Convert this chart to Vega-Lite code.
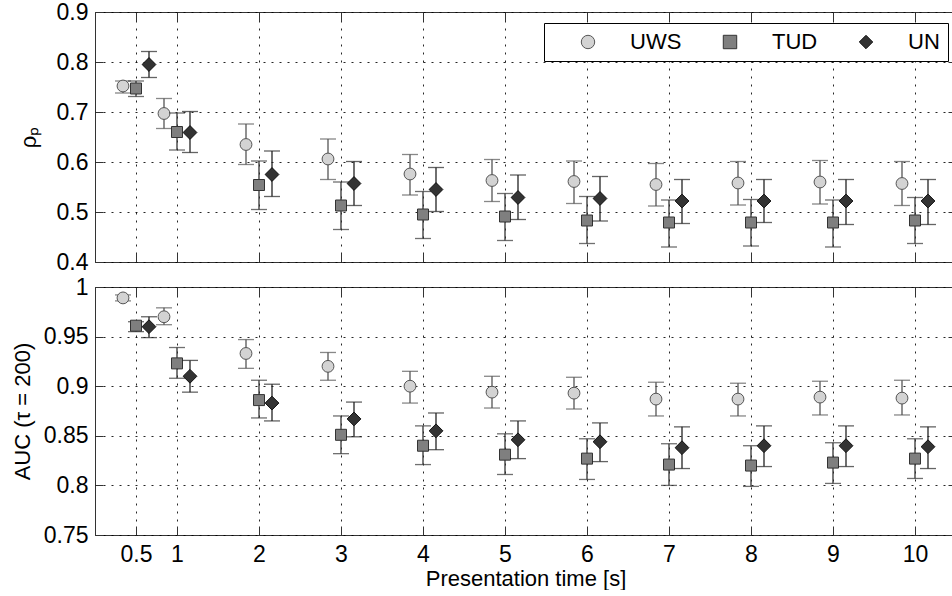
{
  "$schema": "https://vega.github.io/schema/vega-lite/v6.json",
  "padding": {"left": 10, "top": 0, "right": 0, "bottom": 0},
  "background": "white",
  "datasets": {
    "d": [
      {"t": 0.5, "src": "UWS", "r": 0.752, "rlo": 0.738, "rhi": 0.762, "a": 0.989, "alo": 0.986, "ahi": 0.992},
      {"t": 1, "src": "UWS", "r": 0.697, "rlo": 0.667, "rhi": 0.727, "a": 0.970, "alo": 0.962, "ahi": 0.979},
      {"t": 2, "src": "UWS", "r": 0.635, "rlo": 0.595, "rhi": 0.676, "a": 0.933, "alo": 0.918, "ahi": 0.947},
      {"t": 3, "src": "UWS", "r": 0.606, "rlo": 0.565, "rhi": 0.646, "a": 0.920, "alo": 0.906, "ahi": 0.934},
      {"t": 4, "src": "UWS", "r": 0.576, "rlo": 0.534, "rhi": 0.615, "a": 0.900, "alo": 0.883, "ahi": 0.915},
      {"t": 5, "src": "UWS", "r": 0.563, "rlo": 0.521, "rhi": 0.605, "a": 0.894, "alo": 0.878, "ahi": 0.910},
      {"t": 6, "src": "UWS", "r": 0.561, "rlo": 0.517, "rhi": 0.602, "a": 0.893, "alo": 0.877, "ahi": 0.909},
      {"t": 7, "src": "UWS", "r": 0.555, "rlo": 0.512, "rhi": 0.597, "a": 0.887, "alo": 0.870, "ahi": 0.904},
      {"t": 8, "src": "UWS", "r": 0.558, "rlo": 0.514, "rhi": 0.601, "a": 0.887, "alo": 0.870, "ahi": 0.903},
      {"t": 9, "src": "UWS", "r": 0.560, "rlo": 0.516, "rhi": 0.603, "a": 0.889, "alo": 0.871, "ahi": 0.905},
      {"t": 10, "src": "UWS", "r": 0.557, "rlo": 0.513, "rhi": 0.601, "a": 0.888, "alo": 0.871, "ahi": 0.906},
      {"t": 0.5, "src": "TUD", "r": 0.747, "rlo": 0.731, "rhi": 0.762, "a": 0.961, "alo": 0.955, "ahi": 0.965},
      {"t": 1, "src": "TUD", "r": 0.660, "rlo": 0.624, "rhi": 0.698, "a": 0.923, "alo": 0.908, "ahi": 0.939},
      {"t": 2, "src": "TUD", "r": 0.554, "rlo": 0.505, "rhi": 0.602, "a": 0.886, "alo": 0.868, "ahi": 0.906},
      {"t": 3, "src": "TUD", "r": 0.513, "rlo": 0.465, "rhi": 0.560, "a": 0.851, "alo": 0.832, "ahi": 0.870},
      {"t": 4, "src": "TUD", "r": 0.495, "rlo": 0.447, "rhi": 0.541, "a": 0.840, "alo": 0.821, "ahi": 0.860},
      {"t": 5, "src": "TUD", "r": 0.491, "rlo": 0.443, "rhi": 0.537, "a": 0.831, "alo": 0.811, "ahi": 0.852},
      {"t": 6, "src": "TUD", "r": 0.483, "rlo": 0.437, "rhi": 0.531, "a": 0.827, "alo": 0.806, "ahi": 0.847},
      {"t": 7, "src": "TUD", "r": 0.479, "rlo": 0.430, "rhi": 0.524, "a": 0.821, "alo": 0.800, "ahi": 0.842},
      {"t": 8, "src": "TUD", "r": 0.479, "rlo": 0.432, "rhi": 0.525, "a": 0.820, "alo": 0.799, "ahi": 0.840},
      {"t": 9, "src": "TUD", "r": 0.479, "rlo": 0.430, "rhi": 0.524, "a": 0.823, "alo": 0.802, "ahi": 0.843},
      {"t": 10, "src": "TUD", "r": 0.483, "rlo": 0.437, "rhi": 0.529, "a": 0.827, "alo": 0.807, "ahi": 0.847},
      {"t": 0.5, "src": "UN", "r": 0.795, "rlo": 0.769, "rhi": 0.821, "a": 0.960, "alo": 0.949, "ahi": 0.970},
      {"t": 1, "src": "UN", "r": 0.659, "rlo": 0.619, "rhi": 0.701, "a": 0.910, "alo": 0.894, "ahi": 0.926},
      {"t": 2, "src": "UN", "r": 0.575, "rlo": 0.531, "rhi": 0.622, "a": 0.883, "alo": 0.865, "ahi": 0.902},
      {"t": 3, "src": "UN", "r": 0.557, "rlo": 0.513, "rhi": 0.601, "a": 0.867, "alo": 0.849, "ahi": 0.884},
      {"t": 4, "src": "UN", "r": 0.545, "rlo": 0.501, "rhi": 0.589, "a": 0.855, "alo": 0.836, "ahi": 0.873},
      {"t": 5, "src": "UN", "r": 0.529, "rlo": 0.485, "rhi": 0.574, "a": 0.846, "alo": 0.827, "ahi": 0.865},
      {"t": 6, "src": "UN", "r": 0.527, "rlo": 0.482, "rhi": 0.571, "a": 0.844, "alo": 0.824, "ahi": 0.863},
      {"t": 7, "src": "UN", "r": 0.522, "rlo": 0.477, "rhi": 0.565, "a": 0.838, "alo": 0.817, "ahi": 0.859},
      {"t": 8, "src": "UN", "r": 0.522, "rlo": 0.479, "rhi": 0.565, "a": 0.840, "alo": 0.819, "ahi": 0.860},
      {"t": 9, "src": "UN", "r": 0.522, "rlo": 0.475, "rhi": 0.565, "a": 0.840, "alo": 0.819, "ahi": 0.860},
      {"t": 10, "src": "UN", "r": 0.522, "rlo": 0.475, "rhi": 0.565, "a": 0.839, "alo": 0.817, "ahi": 0.859}
    ]
  },
  "data": {"name": "d"},
  "config": {
    "font": "Liberation Sans",
    "view": {"stroke": "#333", "strokeWidth": 1},
    "axis": {
      "grid": true, "gridColor": "#000", "gridDash": [2, 6], "gridOpacity": 0.85, "gridWidth": 1,
      "ticks": true, "tickColor": "#333", "tickWidth": 1, "domain": false,
      "labelFont": "Liberation Sans", "labelFontSize": 23, "labelColor": "#000",
      "titleFont": "Liberation Sans", "titleFontSize": 22, "titleFontWeight": "normal", "titleColor": "#000"
    },
    "legend": {
      "orient": "none", "legendX": 449, "legendY": 11, "direction": "horizontal", "gridAlign": "none",
      "labelFont": "Liberation Sans", "labelFontSize": 22, "labelColor": "#000",
      "titleOrient": "left", "titleFontSize": 10, "titlePadding": 25,
      "padding": 8, "strokeColor": "#000", "fillColor": "#fff",
      "columnPadding": 37, "labelOffset": 31, "symbolOffset": 0, "symbolSize": 180, "symbolStrokeWidth": 1
    }
  },
  "spacing": 0,
  "resolve": {"legend": {"shape": "independent", "fill": "independent", "stroke": "independent"}},
  "vconcat": [
    {
      "width": 861,
      "height": 250,
      "resolve": {"axis": {"x": "independent", "y": "independent"}},
      "layer": [
        {
          "encoding": {
            "x": {"field": "t", "type": "quantitative", "scale": {"domain": [0, 10.5], "nice": false, "zero": false},
                  "axis": {"values": [0.5, 1, 2, 3, 4, 5, 6, 7, 8, 9, 10], "labels": false, "title": null, "tickSize": -9}}
          },
          "layer": [
            {
              "transform": [{"filter": "datum.src === 'UWS'"}],
              "layer": [
                {"mark": {"type": "rule", "xOffset": -13, "color": "#555", "strokeWidth": 1.3},
                 "encoding": {"y": {"field": "rlo", "type": "quantitative", "title": "ρₚ", "scale": {"domain": [0.4, 0.9], "nice": false, "zero": false}, "axis": {"values": [0.4, 0.5, 0.6, 0.7, 0.8, 0.9], "format": "~r", "tickSize": -8, "labelPadding": 15, "titlePadding": 16}}, "y2": {"field": "rhi"}}},
                {"mark": {"type": "tick", "orient": "horizontal", "xOffset": -13, "color": "#555", "size": 16, "thickness": 1.3},
                 "encoding": {"y": {"field": "rlo", "type": "quantitative", "title": "ρₚ"}}},
                {"mark": {"type": "tick", "orient": "horizontal", "xOffset": -13, "color": "#555", "size": 16, "thickness": 1.3},
                 "encoding": {"y": {"field": "rhi", "type": "quantitative", "title": "ρₚ"}}},
                {"mark": {"type": "point", "xOffset": -13, "filled": true, "size": 140, "strokeWidth": 1, "opacity": 1},
                 "encoding": {
                   "y": {"field": "r", "type": "quantitative", "title": "ρₚ"},
                   "shape": {"field": "src", "type": "nominal", "scale": {"domain": ["UWS", "TUD", "UN"], "range": ["circle", "square", "diamond"]}, "legend": {"title": " "}},
                   "fill": {"field": "src", "type": "nominal", "scale": {"domain": ["UWS", "TUD", "UN"], "range": ["#d3d3d3", "#7f7f7f", "#333333"]}, "legend": {"title": " "}},
                   "stroke": {"field": "src", "type": "nominal", "scale": {"domain": ["UWS", "TUD", "UN"], "range": ["#555555", "#333333", "#111111"]}, "legend": {"title": " "}}
                 }}
              ]
            },
            {
              "transform": [{"filter": "datum.src === 'TUD'"}],
              "layer": [
                {"mark": {"type": "rule", "color": "#333", "strokeWidth": 1.3},
                 "encoding": {"y": {"field": "rlo", "type": "quantitative", "title": "ρₚ"}, "y2": {"field": "rhi"}}},
                {"mark": {"type": "tick", "orient": "horizontal", "color": "#333", "size": 16, "thickness": 1.3},
                 "encoding": {"y": {"field": "rlo", "type": "quantitative", "title": "ρₚ"}}},
                {"mark": {"type": "tick", "orient": "horizontal", "color": "#333", "size": 16, "thickness": 1.3},
                 "encoding": {"y": {"field": "rhi", "type": "quantitative", "title": "ρₚ"}}},
                {"mark": {"type": "point", "filled": true, "size": 121, "strokeWidth": 1, "opacity": 1},
                 "encoding": {
                   "y": {"field": "r", "type": "quantitative", "title": "ρₚ"},
                   "shape": {"field": "src", "type": "nominal", "scale": {"domain": ["UWS", "TUD", "UN"], "range": ["circle", "square", "diamond"]}, "legend": {"title": " "}},
                   "fill": {"field": "src", "type": "nominal", "scale": {"domain": ["UWS", "TUD", "UN"], "range": ["#d3d3d3", "#7f7f7f", "#333333"]}, "legend": {"title": " "}},
                   "stroke": {"field": "src", "type": "nominal", "scale": {"domain": ["UWS", "TUD", "UN"], "range": ["#555555", "#333333", "#111111"]}, "legend": {"title": " "}}
                 }}
              ]
            },
            {
              "transform": [{"filter": "datum.src === 'UN'"}],
              "layer": [
                {"mark": {"type": "rule", "xOffset": 13, "color": "#222", "strokeWidth": 1.3},
                 "encoding": {"y": {"field": "rlo", "type": "quantitative", "title": "ρₚ"}, "y2": {"field": "rhi"}}},
                {"mark": {"type": "tick", "orient": "horizontal", "xOffset": 13, "color": "#222", "size": 16, "thickness": 1.3},
                 "encoding": {"y": {"field": "rlo", "type": "quantitative", "title": "ρₚ"}}},
                {"mark": {"type": "tick", "orient": "horizontal", "xOffset": 13, "color": "#222", "size": 16, "thickness": 1.3},
                 "encoding": {"y": {"field": "rhi", "type": "quantitative", "title": "ρₚ"}}},
                {"mark": {"type": "point", "xOffset": 13, "filled": true, "size": 190, "strokeWidth": 1, "opacity": 1},
                 "encoding": {
                   "y": {"field": "r", "type": "quantitative", "title": "ρₚ"},
                   "shape": {"field": "src", "type": "nominal", "scale": {"domain": ["UWS", "TUD", "UN"], "range": ["circle", "square", "diamond"]}, "legend": {"title": " "}},
                   "fill": {"field": "src", "type": "nominal", "scale": {"domain": ["UWS", "TUD", "UN"], "range": ["#d3d3d3", "#7f7f7f", "#333333"]}, "legend": {"title": " "}},
                   "stroke": {"field": "src", "type": "nominal", "scale": {"domain": ["UWS", "TUD", "UN"], "range": ["#555555", "#333333", "#111111"]}, "legend": {"title": " "}}
                 }}
              ]
            }
          ]
        },
        {
          "mark": {"type": "point", "opacity": 0},
          "encoding": {
            "x": {"field": "t", "type": "quantitative", "axis": {"orient": "top", "values": [0.5, 1, 2, 3, 4, 5, 6, 7, 8, 9, 10], "labels": false, "grid": false, "tickSize": -9, "title": null}},
            "y": {"field": "r", "type": "quantitative", "axis": {"orient": "right", "values": [0.4, 0.5, 0.6, 0.7, 0.8, 0.9], "labels": false, "grid": false, "tickSize": -8, "title": null}}
          }
        }
      ]
    },
    {
      "width": 861,
      "height": 248,
      "resolve": {"axis": {"x": "independent", "y": "independent"}},
      "layer": [
        {
          "encoding": {
            "x": {"field": "t", "type": "quantitative", "scale": {"domain": [0, 10.5], "nice": false, "zero": false},
                  "axis": {"values": [0.5, 1, 2, 3, 4, 5, 6, 7, 8, 9, 10], "format": "~r", "tickSize": -9, "labelPadding": 17, "titlePadding": 2, "title": "Presentation time [s]"}}
          },
          "layer": [
            {
              "transform": [{"filter": "datum.src === 'UWS'"}],
              "layer": [
                {"mark": {"type": "rule", "xOffset": -13, "color": "#555", "strokeWidth": 1.3},
                 "encoding": {"y": {"field": "alo", "type": "quantitative", "title": "AUC (τ = 200)", "scale": {"domain": [0.75, 1], "nice": false, "zero": false}, "axis": {"values": [0.75, 0.8, 0.85, 0.9, 0.95, 1], "format": "~r", "tickSize": -8, "labelPadding": 15, "titlePadding": 9}}, "y2": {"field": "ahi"}}},
                {"mark": {"type": "tick", "orient": "horizontal", "xOffset": -13, "color": "#555", "size": 16, "thickness": 1.3},
                 "encoding": {"y": {"field": "alo", "type": "quantitative", "title": "AUC (τ = 200)"}}},
                {"mark": {"type": "tick", "orient": "horizontal", "xOffset": -13, "color": "#555", "size": 16, "thickness": 1.3},
                 "encoding": {"y": {"field": "ahi", "type": "quantitative", "title": "AUC (τ = 200)"}}},
                {"mark": {"type": "point", "xOffset": -13, "filled": true, "size": 140, "strokeWidth": 1, "opacity": 1},
                 "encoding": {
                   "y": {"field": "a", "type": "quantitative", "title": "AUC (τ = 200)"},
                   "shape": {"field": "src", "type": "nominal", "scale": {"domain": ["UWS", "TUD", "UN"], "range": ["circle", "square", "diamond"]}, "legend": null},
                   "fill": {"field": "src", "type": "nominal", "scale": {"domain": ["UWS", "TUD", "UN"], "range": ["#d3d3d3", "#7f7f7f", "#333333"]}, "legend": null},
                   "stroke": {"field": "src", "type": "nominal", "scale": {"domain": ["UWS", "TUD", "UN"], "range": ["#555555", "#333333", "#111111"]}, "legend": null}
                 }}
              ]
            },
            {
              "transform": [{"filter": "datum.src === 'TUD'"}],
              "layer": [
                {"mark": {"type": "rule", "color": "#333", "strokeWidth": 1.3},
                 "encoding": {"y": {"field": "alo", "type": "quantitative", "title": "AUC (τ = 200)"}, "y2": {"field": "ahi"}}},
                {"mark": {"type": "tick", "orient": "horizontal", "color": "#333", "size": 16, "thickness": 1.3},
                 "encoding": {"y": {"field": "alo", "type": "quantitative", "title": "AUC (τ = 200)"}}},
                {"mark": {"type": "tick", "orient": "horizontal", "color": "#333", "size": 16, "thickness": 1.3},
                 "encoding": {"y": {"field": "ahi", "type": "quantitative", "title": "AUC (τ = 200)"}}},
                {"mark": {"type": "point", "filled": true, "size": 121, "strokeWidth": 1, "opacity": 1},
                 "encoding": {
                   "y": {"field": "a", "type": "quantitative", "title": "AUC (τ = 200)"},
                   "shape": {"field": "src", "type": "nominal", "scale": {"domain": ["UWS", "TUD", "UN"], "range": ["circle", "square", "diamond"]}, "legend": null},
                   "fill": {"field": "src", "type": "nominal", "scale": {"domain": ["UWS", "TUD", "UN"], "range": ["#d3d3d3", "#7f7f7f", "#333333"]}, "legend": null},
                   "stroke": {"field": "src", "type": "nominal", "scale": {"domain": ["UWS", "TUD", "UN"], "range": ["#555555", "#333333", "#111111"]}, "legend": null}
                 }}
              ]
            },
            {
              "transform": [{"filter": "datum.src === 'UN'"}],
              "layer": [
                {"mark": {"type": "rule", "xOffset": 13, "color": "#222", "strokeWidth": 1.3},
                 "encoding": {"y": {"field": "alo", "type": "quantitative", "title": "AUC (τ = 200)"}, "y2": {"field": "ahi"}}},
                {"mark": {"type": "tick", "orient": "horizontal", "xOffset": 13, "color": "#222", "size": 16, "thickness": 1.3},
                 "encoding": {"y": {"field": "alo", "type": "quantitative", "title": "AUC (τ = 200)"}}},
                {"mark": {"type": "tick", "orient": "horizontal", "xOffset": 13, "color": "#222", "size": 16, "thickness": 1.3},
                 "encoding": {"y": {"field": "ahi", "type": "quantitative", "title": "AUC (τ = 200)"}}},
                {"mark": {"type": "point", "xOffset": 13, "filled": true, "size": 190, "strokeWidth": 1, "opacity": 1},
                 "encoding": {
                   "y": {"field": "a", "type": "quantitative", "title": "AUC (τ = 200)"},
                   "shape": {"field": "src", "type": "nominal", "scale": {"domain": ["UWS", "TUD", "UN"], "range": ["circle", "square", "diamond"]}, "legend": null},
                   "fill": {"field": "src", "type": "nominal", "scale": {"domain": ["UWS", "TUD", "UN"], "range": ["#d3d3d3", "#7f7f7f", "#333333"]}, "legend": null},
                   "stroke": {"field": "src", "type": "nominal", "scale": {"domain": ["UWS", "TUD", "UN"], "range": ["#555555", "#333333", "#111111"]}, "legend": null}
                 }}
              ]
            }
          ]
        },
        {
          "mark": {"type": "point", "opacity": 0},
          "encoding": {
            "x": {"field": "t", "type": "quantitative", "axis": {"orient": "top", "values": [0.5, 1, 2, 3, 4, 5, 6, 7, 8, 9, 10], "labels": false, "grid": false, "tickSize": -9, "title": null}},
            "y": {"field": "a", "type": "quantitative", "axis": {"orient": "right", "values": [0.75, 0.8, 0.85, 0.9, 0.95, 1], "labels": false, "grid": false, "tickSize": -8, "title": null}}
          }
        }
      ]
    }
  ]
}
